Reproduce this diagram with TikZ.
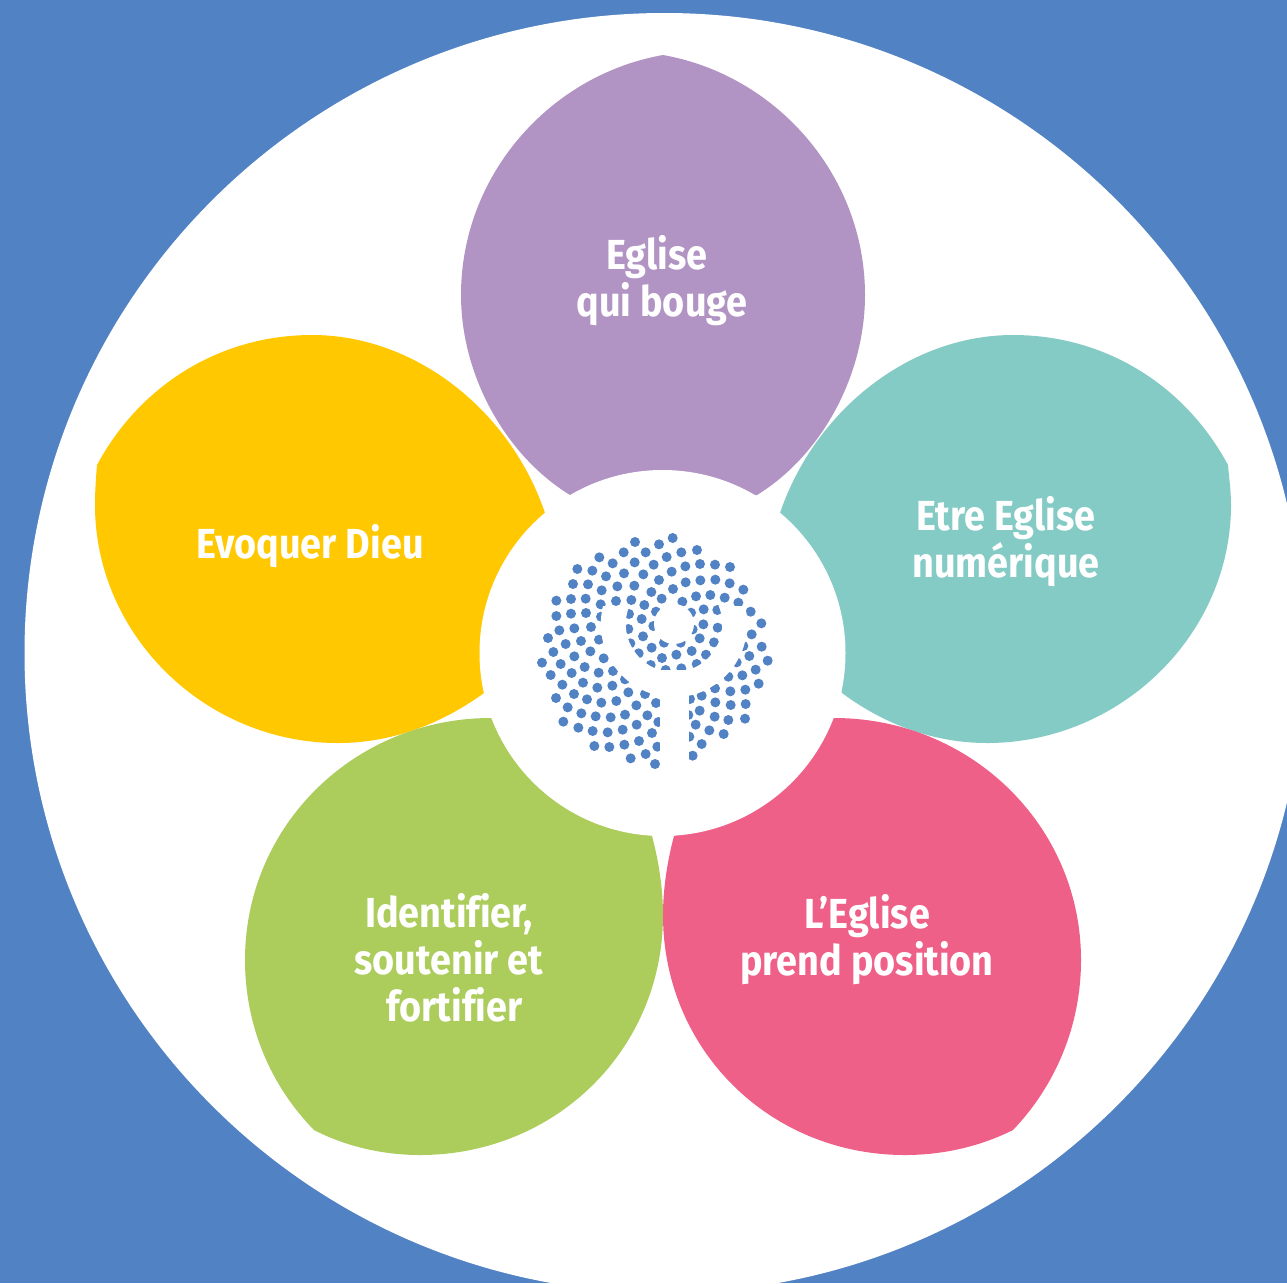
\documentclass[tikz,border=0pt]{standalone}
\usepackage{fontspec}
\newfontfamily\petalfont{Fira Sans}[FakeStretch=0.9, Ligatures=NoCommon]
\definecolor{backblue}{HTML}{5182C4}
\definecolor{petalpurple}{HTML}{B194C3}
\definecolor{petalteal}{HTML}{85CBC5}
\definecolor{petalyellow}{HTML}{FFC800}
\definecolor{petalgreen}{HTML}{ACCD5B}
\definecolor{petalpink}{HTML}{EF6089}

\begin{document}
\begin{tikzpicture}[x=1pt, y=-1pt,
    disc/.style={circle, fill=white, inner sep=0, outer sep=0},
    petallabel/.style={text=white, align=center, inner sep=0, font=\petalfont\bfseries\fontsize{42}{47}\selectfont}]
        \useasboundingbox (0, 0) rectangle (1287, 1283);
        \fill [backblue] (0, 0) rectangle (1287, 1283);
        \clip (0, 0) rectangle (1287, 1283);
        \node [disc, minimum size=1280pt] (outer) at (664.5, 653) {};

        \fill [petalpurple] (663, 55) .. controls (550, 75) and (461, 175) .. (461, 295)
          .. controls (461, 375) and (505, 455) .. (570, 495) -- (757, 495)
          .. controls (822, 455) and (865, 375) .. (865, 295)
          .. controls (865, 175) and (776, 75) .. (663, 55) -- cycle;
        \fill [petalyellow] (97, 465) .. controls (140, 385) and (220, 335) .. (312, 335)
          .. controls (415, 335) and (510, 410) .. (545, 513) -- (484, 693)
          .. controls (440, 725) and (390, 743) .. (338, 743)
          .. controls (205, 743) and (95, 635) .. (95, 505)
          .. controls (95, 490) and (96, 478) .. (97, 465) -- cycle;
        \fill [petalteal] (1228, 465) .. controls (1185, 385) and (1105, 335) .. (1013, 335)
          .. controls (910, 335) and (815, 410) .. (780, 513) -- (842, 693)
          .. controls (885, 725) and (935, 743) .. (987, 743)
          .. controls (1120, 743) and (1231, 635) .. (1231, 505)
          .. controls (1231, 490) and (1229, 478) .. (1228, 465) -- cycle;
        \fill [petalgreen] (491, 718) .. controls (355, 718) and (245, 825) .. (245, 960)
          .. controls (245, 1025) and (270, 1085) .. (314, 1130)
          .. controls (345, 1146) and (382, 1155) .. (420, 1155)
          .. controls (555, 1155) and (663, 1050) .. (663, 915)
          .. controls (663, 890) and (659, 862) .. (652, 836) -- cycle;
        \fill [petalpink] (834, 718) .. controls (970, 718) and (1081, 825) .. (1081, 960)
          .. controls (1081, 1025) and (1056, 1085) .. (1013, 1130)
          .. controls (981, 1146) and (944, 1155) .. (905, 1155)
          .. controls (770, 1155) and (663, 1050) .. (663, 915)
          .. controls (663, 890) and (667, 862) .. (674, 836) -- cycle;

        \node [disc, minimum size=366pt] (hub) at (662.5, 653) {};

        \foreach \x/\y in {458/54, 345/66, 417/73, 311/97, 377/97, 484/97, 531/90, 238/112, 440/111,
            278/130, 344/127, 401/134, 496/139, 540/132, 585/134, 630/141, 172/147, 217/152,
            258/169, 312/160, 370/163, 455/155, 417/180, 497/187, 541/181, 586/179, 629/190, 670/209,
            159/192, 204/193, 245/211, 292/199, 343/197, 394/216, 459/207, 425/236, 528/229, 571/225, 614/233, 655/248,
            109/242, 153/237, 197/236, 242/253, 288/243, 334/240, 373/255, 487/245, 551/268, 592/270, 692/275,
            109/288, 153/281, 198/279, 243/290, 327/282, 365/297, 408/275, 513/278, 550/313, 593/323, 724/310,
            118/331, 163/325, 213/321, 325/327, 400/318, 518/328, 539/355, 582/367, 695/343,
            84/354, 137/372, 183/363, 237/359, 369/349, 432/368, 482/368, 725/380, 670/378,
            100/396, 163/409, 211/394, 331/370, 395/383, 356/400, 515/393, 558/404, 688/408,
            66/428, 122/432, 251/415, 426/414, 469/404, 392/435, 530/432, 650/427, 743/422, 707/449,
            92/465, 155/459, 194/441, 236/458, 279/453, 437/450, 484/445, 667/466, 625/470,
            127/494, 189/488, 232/503, 277/497, 315/478, 716/491, 585/505, 631/514, 676/509,
            108/534, 162/522, 201/538, 325/517, 375/522, 545/527, 510/537,
            143/562, 244/548, 289/543, 349/556, 408/549, 586/547, 632/555, 677/552,
            184/580, 227/589, 272/592, 315/584, 382/586, 539/572, 505/585, 584/590, 625/600, 675/596,
            130/605, 175/623, 218/633, 263/637, 308/629, 350/614, 415/606, 527/614, 568/631, 611/642,
            396/639, 508/650, 223/678, 268/681, 313/674, 357/663, 412/680, 545/672,
            332/715, 377/702, 518/707, 405/732} {
          \fill [backblue] ({520 + \x/3}, {520 + \y/3}) circle [radius=5pt];
        }

        \begin{scope}
          \clip (590, 606) rectangle (770, 720);
          \draw [white, line width=25pt] (674, 624) circle [radius=60.7pt];
        \end{scope}
        \fill [white] (660, 670) rectangle (688.5, 775);
        \node [disc, minimum size=40pt] (crown) at (674, 624) {};

        \node [petallabel] (label1) at (662, 281) {Eglise\hspace*{10pt}\\qui bouge};
        \node [petallabel] (label2) at (1006, 542) {Etre Eglise\\num\'erique};
        \node [petallabel] (label3) at (310, 546) {Evoquer Dieu};
        \node [petallabel] (label4) at (449, 958) {Identifier,\\soutenir et\\\hspace*{11pt}fortifier};
        \node [petallabel] (label5) at (867, 940) {L’Eglise\\prend position};
      \end{tikzpicture}
\end{document}
